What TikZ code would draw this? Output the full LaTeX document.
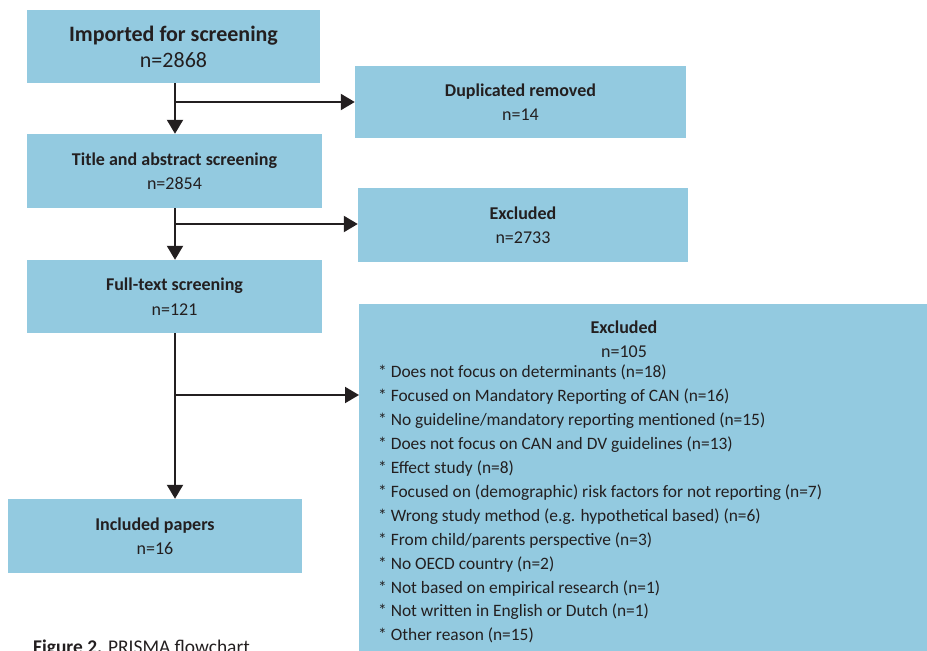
\documentclass[tikz,border=0pt]{standalone}
\usepackage{fontspec}
\setmainfont{Carlito}
\usetikzlibrary{arrows.meta}
\definecolor{prisma}{RGB}{147,202,224}
\definecolor{ink}{RGB}{35,31,32}
\begin{document}
\begin{tikzpicture}[x=1pt,y=-1pt,
  txt/.style={text=ink, inner sep=0pt, align=center, font=\fontsize{18}{24.5}\selectfont},
  box/.style={txt, fill=prisma},
  arr/.style={draw=ink, line width=2pt, -{Triangle[length=14pt,width=16pt]}}]
  \useasboundingbox (0,0) rectangle (927,651);
  % left column
  \node[box, minimum width=293pt, minimum height=73pt, font=\fontsize{22}{26}\selectfont] (imported) at (173.5,46.5) {\textbf{Imported for screening}\\n=2868};
  \node[box, minimum width=295pt, minimum height=74pt] (title) at (174.5,171) {\textbf{Title and abstract screening}\\n=2854};
  \node[box, minimum width=295pt, minimum height=73pt] (fulltext) at (174.5,296.5) {\textbf{Full-text screening}\\n=121};
  \node[box, minimum width=294pt, minimum height=74pt] (included) at (155,536) {\textbf{Included papers}\\n=16};
  % right column
  \node[box, minimum width=331pt, minimum height=72pt] (dup) at (520.5,102) {\textbf{Duplicated removed}\\n=14};
  \node[box, minimum width=330pt, minimum height=74pt] (excl) at (523,225) {\textbf{Excluded}\\n=2733};
  \node[box, minimum width=568pt, minimum height=360pt, anchor=north west] (fullexcl) at (359,304) {};
  \node[txt] (fullexclhead) at (624,339) {\textbf{Excluded}\\n=105};
  \node[txt, align=left, anchor=north west, font=\fontsize{17.4}{23.9}\selectfont] (reasons) at (378,365) {%
    * Does not focus on determinants (n=18)\\
    * Focused on Mandatory Reporting of CAN (n=16)\\
    * No guideline/mandatory reporting mentioned (n=15)\\
    * Does not focus on CAN and DV guidelines (n=13)\\
    * Effect study (n=8)\\
    * Focused on (demographic) risk factors for not reporting (n=7)\\
    * Wrong study method (e.g. hypothetical based) (n=6)\\
    * From child/parents perspective (n=3)\\
    * No OECD country (n=2)\\
    * Not based on empirical research (n=1)\\
    * Not written in English or Dutch (n=1)\\
    * Other reason (n=15)};
  % connectors
  \coordinate (j1) at (175,102);
  \coordinate (j2) at (175,224);
  \coordinate (j3) at (175,395);
  \draw[arr] (j1 |- imported.south) -- (j1 |- title.north);
  \draw[arr] (j1) -- (j1 -| dup.west);
  \draw[arr] (j2 |- title.south) -- (j2 |- fulltext.north);
  \draw[arr] (j2) -- (j2 -| excl.west);
  \draw[arr] (j3 |- fulltext.south) -- (j3 |- included.north);
  \draw[arr] (j3) -- (j3 -| fullexcl.west);
  % caption
  \node[text=ink, inner sep=0pt, anchor=base west, font=\fontsize{19.4}{22}\selectfont] (caption) at (33,653) {\textbf{Figure 2.} PRISMA flowchart};
\end{tikzpicture}
\end{document}
